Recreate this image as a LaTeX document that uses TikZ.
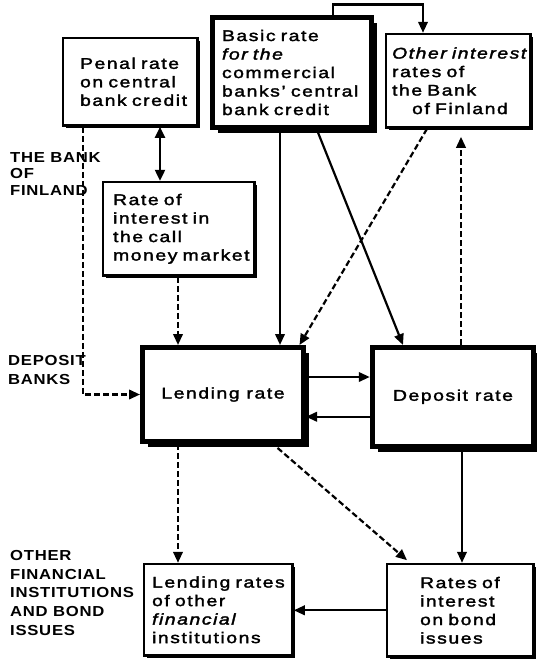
\documentclass[tikz,border=0pt]{standalone}
\usepackage{fontspec}
\setmainfont{Liberation Sans}[FakeStretch=1.25, LetterSpace=10, FakeBold=2]
\newfontfamily\labfont{Liberation Sans Bold}[FakeStretch=1.15, LetterSpace=5]
\usetikzlibrary{arrows.meta,shadows}
\hyphenpenalty=10000
\exhyphenpenalty=10000

\tikzset{
  boxbase/.style={draw, fill=white, rectangle, inner ysep=0pt,
    font=\fontsize{15.5}{18.5}\selectfont},
  thinbox/.style={boxbase, line width=2.6pt, align=left,
    general shadow={shadow xshift=2.8pt, shadow yshift=-2.8pt, fill=black}},
  thickbox/.style={boxbase, line width=5pt, align=center,
    general shadow={shadow xshift=5.5pt, shadow yshift=-5.5pt, fill=black}},
  grouplabel/.style={anchor=north west, inner sep=0pt, align=left},
  conn/.style={line width=2.2pt, -{Triangle[length=11pt,width=9.5pt]}},
  dconn/.style={conn, dash pattern=on 6pt off 3pt},
  bothconn/.style={line width=2.2pt, {Triangle[length=11pt,width=10pt]}-{Triangle[length=11pt,width=10pt]}}
}

\begin{document}
\begin{tikzpicture}[x=1pt, y=-1pt]
\useasboundingbox (0,0) rectangle (537,661);

% boxes
\node[thinbox, minimum width=134.4pt, minimum height=87.4pt, inner xsep=17pt, text width=100.4pt]
  (penal) at (130.3,81.8) {Penal~rate\\on~central\\bank~credit};
\node[thickbox, align=left, minimum width=159pt, minimum height=110pt, inner xsep=9.5pt, text width=140pt]
  (basic) at (292,72.5) {Basic~rate\\\textit{for~the}\\commercial\\banks'~central\\bank~credit};
\node[thinbox, minimum width=144.4pt, minimum height=93.4pt, inner xsep=6pt, text width=132.4pt]
  (other) at (458.3,80.8) {\textit{Other~interest}\\rates~of\\the~Bank\\\hspace*{20pt}of~Finland};
\node[thinbox, minimum width=151.4pt, minimum height=93.4pt, inner xsep=10pt, text width=131.4pt]
  (call) at (178.8,228.8) {Rate~of\\interest~in\\the~call\\money~market};
\node[thickbox, minimum width=161pt, minimum height=94pt]
  (lend) at (223,394.5) {Lending~rate};
\node[thickbox, minimum width=161.5pt, minimum height=98.5pt]
  (dep) at (453,396.75) {Deposit~rate};
\node[thinbox, minimum width=148.4pt, minimum height=91.4pt, inner xsep=8pt, text width=132.4pt]
  (lrother) at (218.3,609.8) {Lending~rates\\of~other\\\textit{financial}\\institutions};
\node[thinbox, minimum width=146.4pt, minimum height=92.4pt, inner xsep=33pt, text width=80.4pt]
  (bond) at (460.3,610.3) {Rates~of\\interest\\on~bond\\issues};

% group labels
\node[grouplabel, font=\labfont\fontsize{14.5}{16.5}\selectfont] (lbf) at (10,152) {THE BANK\\OF\\FINLAND};
\node[grouplabel, font=\labfont\fontsize{14.5}{19}\selectfont] (ldb) at (8,355.5) {DEPOSIT\\BANKS};
\node[grouplabel, font=\labfont\fontsize{14.5}{18.7}\selectfont] (lof) at (10,550) {OTHER\\FINANCIAL\\INSTITUTIONS\\AND BOND\\ISSUES};

% connectors
\draw[conn] ([xshift=41pt]basic.north) -- ++(0,-10.5) -| ([xshift=-35.3pt]other.north);
\draw[bothconn] ([xshift=29.7pt]penal.south) -- ([xshift=29.7pt]penal.south |- call.north);
\draw[dconn] ([xshift=-47.3pt]penal.south) |- (lend.west);
\draw[dconn] ([xshift=-0.8pt]call.south) -- ([xshift=-0.8pt]call.south |- lend.north);
\draw[conn] ([xshift=-12pt]basic.south) -- ([xshift=-12pt]basic.south |- lend.north);
\draw[conn] ([xshift=25pt]basic.south) -- ([xshift=-50pt]dep.north);
\draw[dconn] ([xshift=-31.3pt]other.south) -- ([xshift=-6.5pt]lend.north east);
\draw[dconn, shorten >=8pt] ([xshift=8pt]dep.north) -- ([xshift=8pt]dep.north |- other.south);
\draw[conn] ([yshift=17.5pt]lend.east) -- ([yshift=17.5pt]lend.east -| dep.west);
\draw[conn] ([yshift=-20pt]dep.west) -- ([yshift=-20pt]dep.west -| lend.east);
\draw[dconn] ([xshift=-45pt]lend.south) -- ([xshift=-45pt]lend.south |- lrother.north);
\draw[dconn, shorten <=6pt, shorten >=4pt] ([xshift=50pt]lend.south) -- ([xshift=-50.3pt]bond.north);
\draw[conn] ([xshift=9pt]dep.south) -- ([xshift=9pt]dep.south |- bond.north);
\draw[conn] (bond.west) -- (bond.west -| lrother.east);
\end{tikzpicture}
\end{document}
